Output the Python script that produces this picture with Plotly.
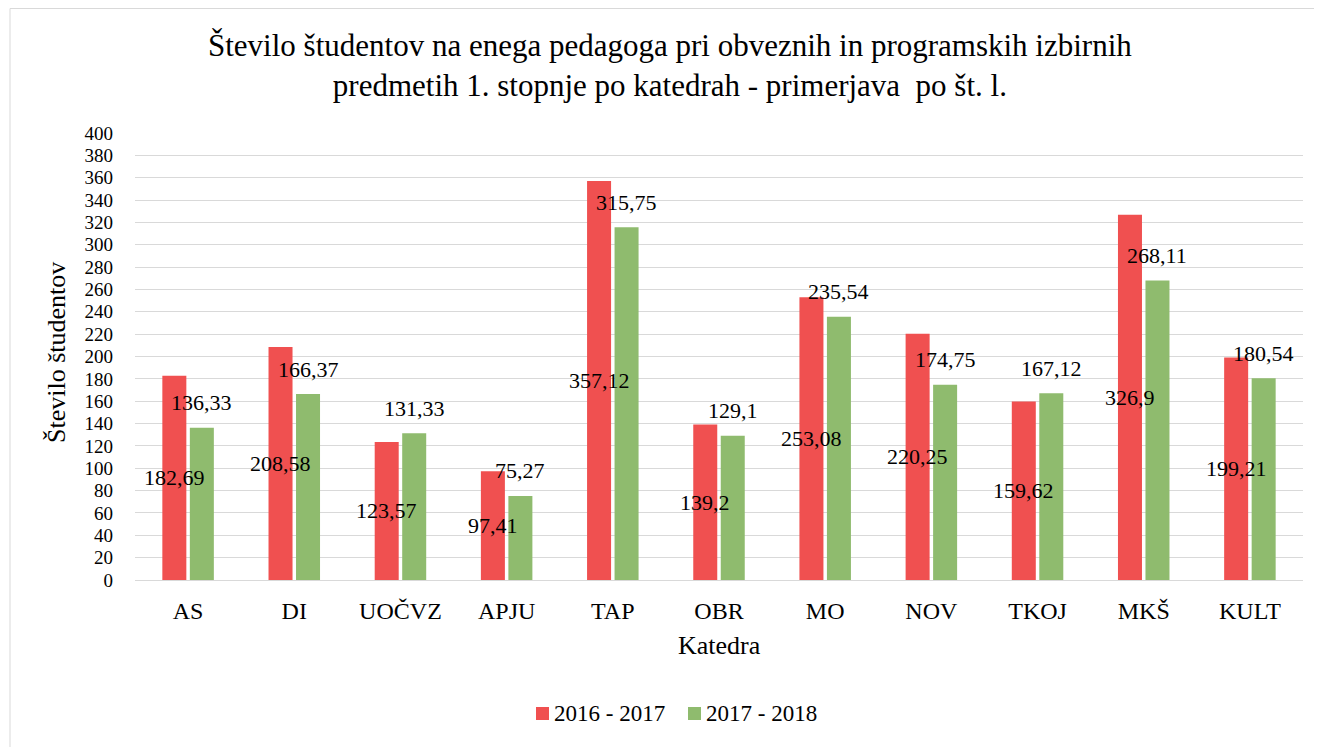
import plotly.graph_objects as go

categories = ["AS", "DI", "UOČVZ", "APJU", "TAP", "OBR", "MO", "NOV", "TKOJ", "MKŠ", "KULT"]
values_2016 = [182.69, 208.58, 123.57, 97.41, 357.12, 139.2, 253.08, 220.25, 159.62, 326.9, 199.21]
values_2017 = [136.33, 166.37, 131.33, 75.27, 315.75, 129.1, 235.54, 174.75, 167.12, 268.11, 180.54]
series_names = ["2016 - 2017", "2017 - 2018"]

RED = "#F05050"
GREEN = "#8FBB6E"
FONT = "Liberation Serif, DejaVu Serif, Times New Roman, serif"

# page body has an 8px margin; figure fills the rest of the window
OFF = 8
W, H = 1322 - OFF, 747 - OFF
# plot area in screen pixels
PL, PR, PT, PB = 135, 1303, 133, 580
ML, MR, MT, MB = PL - OFF, W + OFF - PR, PT - OFF, H + OFF - PB
PW = PR - PL
PH = PB - PT

def px_x(p):
    return (p - PL) / PW

def px_y(p):
    return (PB - p) / PH

def fmt(v):
    s = ("%.2f" % v).rstrip("0").rstrip(".")
    return s.replace(".", ",")

colors = [RED, GREEN]
fig = go.Figure()
for name, vals, col in zip(series_names, [values_2016, values_2017], colors):
    fig.add_trace(go.Bar(x=categories, y=vals, name=name, showlegend=False,
                         marker=dict(color=col, line=dict(width=0))))

cat_w = PW / len(categories)
bargap = 0.482
bargroupgap = 0.127
slot = cat_w * (1 - bargap) / 2
offset = slot / 2

LABEL_SIZE = 22
annotations = []
for c, v in zip(categories, values_2016):
    annotations.append(dict(x=c, y=v / 2, xref="x", yref="y", text=fmt(v),
                            showarrow=False, xshift=-offset, yanchor="middle",
                            font=dict(family=FONT, size=LABEL_SIZE, color="#000000")))
for c, v in zip(categories, values_2017):
    annotations.append(dict(x=c, y=v, xref="x", yref="y", text=fmt(v),
                            showarrow=False, xshift=offset, yshift=25, yanchor="middle",
                            font=dict(family=FONT, size=LABEL_SIZE, color="#000000")))

annotations.append(dict(x=px_x(670), y=px_y(66), xref="paper", yref="paper",
                        text="Število študentov na enega pedagoga pri obveznih in programskih izbirnih<br>predmetih 1. stopnje po katedrah - primerjava  po št. l.",
                        showarrow=False, xanchor="center", yanchor="middle",
                        font=dict(family=FONT, size=31, color="#000000")))
annotations.append(dict(x=px_x(56), y=px_y(352), xref="paper", yref="paper",
                        text="Število študentov", textangle=-90, showarrow=False,
                        xanchor="center", yanchor="middle",
                        font=dict(family=FONT, size=26, color="#000000")))
annotations.append(dict(x=px_x(719), y=px_y(645), xref="paper", yref="paper",
                        text="Katedra", showarrow=False,
                        xanchor="center", yanchor="middle",
                        font=dict(family=FONT, size=26, color="#000000")))

# manual legend (square swatch + series name)
shapes = [dict(type="rect", xref="paper", yref="paper",
               x0=px_x(10), x1=px_x(1340), y0=px_y(760), y1=px_y(8.5),
               line=dict(color="#D9D9D9", width=1), layer="below")]
legend_starts = [536, 688]
for name, col, sx in zip(series_names, colors, legend_starts):
    shapes.append(dict(type="rect", xref="paper", yref="paper",
                       x0=px_x(sx), x1=px_x(sx + 13), y0=px_y(720), y1=px_y(707),
                       fillcolor=col, line=dict(width=0)))
    annotations.append(dict(x=px_x(sx + 16), y=px_y(713), xref="paper", yref="paper",
                            text=name, showarrow=False, xanchor="left", yanchor="middle",
                            font=dict(family=FONT, size=23, color="#000000")))

fig.update_layout(
    width=W, height=H,
    margin=dict(l=ML, r=MR, t=MT, b=MB, autoexpand=False),
    paper_bgcolor="white", plot_bgcolor="white",
    barmode="group", bargap=bargap, bargroupgap=bargroupgap,
    font=dict(family=FONT, size=22, color="#000000"),
    showlegend=False,
    annotations=annotations,
    shapes=shapes,
    xaxis=dict(showline=True, linecolor="#D9D9D9", linewidth=1, ticks="",
               showgrid=False, ticklabelstandoff=9,
               tickfont=dict(family=FONT, size=24, color="#000000")),
    yaxis=dict(range=[0, 400], dtick=20, showgrid=True, gridcolor="#D9D9D9",
               gridwidth=1, zeroline=False, showline=False, ticks="",
               ticklabelstandoff=21,
               tickfont=dict(family=FONT, size=19, color="#000000")),
)

fig.write_html("out.html")
